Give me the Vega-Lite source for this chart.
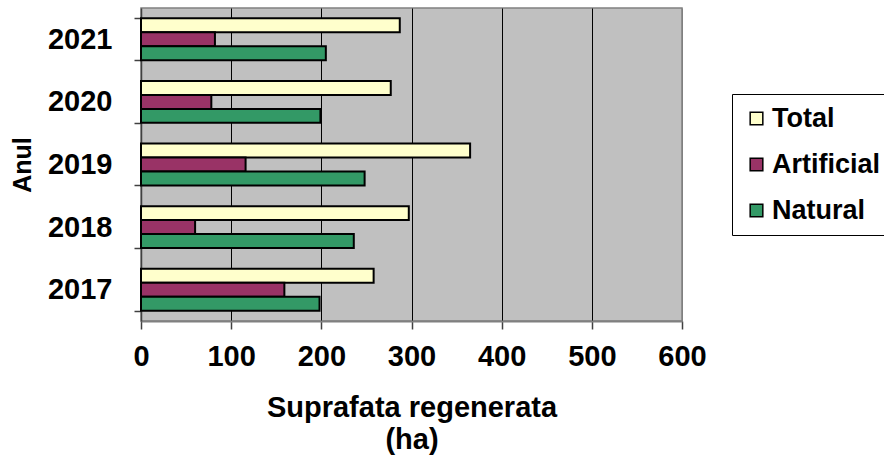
{
  "$schema": "https://vega.github.io/schema/vega-lite/v6.json",
  "autosize": {"type": "none"},
  "padding": {"left": 141, "top": 8, "right": 202, "bottom": 138},
  "width": 541,
  "height": 313,
  "background": "white",
  "config": {
    "font": "Liberation Sans",
    "view": {"fill": "#C0C0C0", "stroke": "#808080", "strokeWidth": 1.5}
  },
  "data": {
    "values": [
      {"anul": "2017", "tip": "Total", "ha": 258},
      {"anul": "2017", "tip": "Artificial", "ha": 159},
      {"anul": "2017", "tip": "Natural", "ha": 198},
      {"anul": "2018", "tip": "Total", "ha": 297},
      {"anul": "2018", "tip": "Artificial", "ha": 60},
      {"anul": "2018", "tip": "Natural", "ha": 236},
      {"anul": "2019", "tip": "Total", "ha": 365},
      {"anul": "2019", "tip": "Artificial", "ha": 116},
      {"anul": "2019", "tip": "Natural", "ha": 248},
      {"anul": "2020", "tip": "Total", "ha": 277},
      {"anul": "2020", "tip": "Artificial", "ha": 78},
      {"anul": "2020", "tip": "Natural", "ha": 199},
      {"anul": "2021", "tip": "Total", "ha": 287},
      {"anul": "2021", "tip": "Artificial", "ha": 82},
      {"anul": "2021", "tip": "Natural", "ha": 205}
    ]
  },
  "mark": {"type": "bar", "stroke": "black", "strokeWidth": 2},
  "encoding": {
    "y": {
      "field": "anul",
      "type": "nominal",
      "sort": "descending",
      "scale": {"paddingInner": 0.33, "paddingOuter": 0.165},
      "axis": {
        "title": "Anul",
        "titleFontSize": 25,
        "titleFontWeight": "bold",
        "titleColor": "black",
        "titlePadding": 12,
        "labelFontSize": 29,
        "labelFontWeight": "bold",
        "labelColor": "black",
        "labelPadding": 22,
        "tickBand": "extent",
        "tickSize": 7,
        "tickColor": "#404040",
        "tickWidth": 1.5,
        "domainColor": "#404040",
        "domainWidth": 1.5,
        "grid": false
      }
    },
    "yOffset": {
      "field": "tip",
      "type": "nominal",
      "sort": ["Total", "Artificial", "Natural"],
      "scale": {"paddingInner": 0, "paddingOuter": 0}
    },
    "x": {
      "field": "ha",
      "type": "quantitative",
      "scale": {"domain": [0, 600], "nice": false},
      "axis": {
        "title": ["Suprafata regenerata", "(ha)"],
        "titleFontSize": 29,
        "titleFontWeight": "bold",
        "titleColor": "black",
        "titleLineHeight": 32,
        "titlePadding": 22,
        "values": [0, 100, 200, 300, 400, 500, 600],
        "labelFontSize": 29,
        "labelFontWeight": "bold",
        "labelColor": "black",
        "labelPadding": 13,
        "labelFlush": false,
        "tickSize": 8,
        "tickColor": "#404040",
        "tickWidth": 1.5,
        "domainColor": "#808080",
        "domainWidth": 2,
        "grid": true,
        "gridColor": {"condition": {"test": "datum.value == 0 || datum.value == 600", "value": "#808080"}, "value": "black"},
        "gridWidth": 1,
        "gridOpacity": 1
      }
    },
    "color": {
      "field": "tip",
      "type": "nominal",
      "sort": ["Total", "Artificial", "Natural"],
      "scale": {
        "domain": ["Total", "Artificial", "Natural"],
        "range": ["#FFFFCC", "#993366", "#339966"]
      },
      "legend": {
        "title": null,
        "orient": "none",
        "legendX": 591,
        "legendY": 86,
        "fillColor": "white",
        "strokeColor": "black",
        "padding": 11,
        "symbolType": "square",
        "symbolSize": 160,
        "symbolStrokeColor": "black",
        "symbolStrokeWidth": 1.5,
        "symbolOpacity": 1,
        "labelFontSize": 27,
        "labelFontWeight": "bold",
        "labelColor": "black",
        "labelOffset": 2,
        "rowPadding": 18
      }
    }
  }
}
